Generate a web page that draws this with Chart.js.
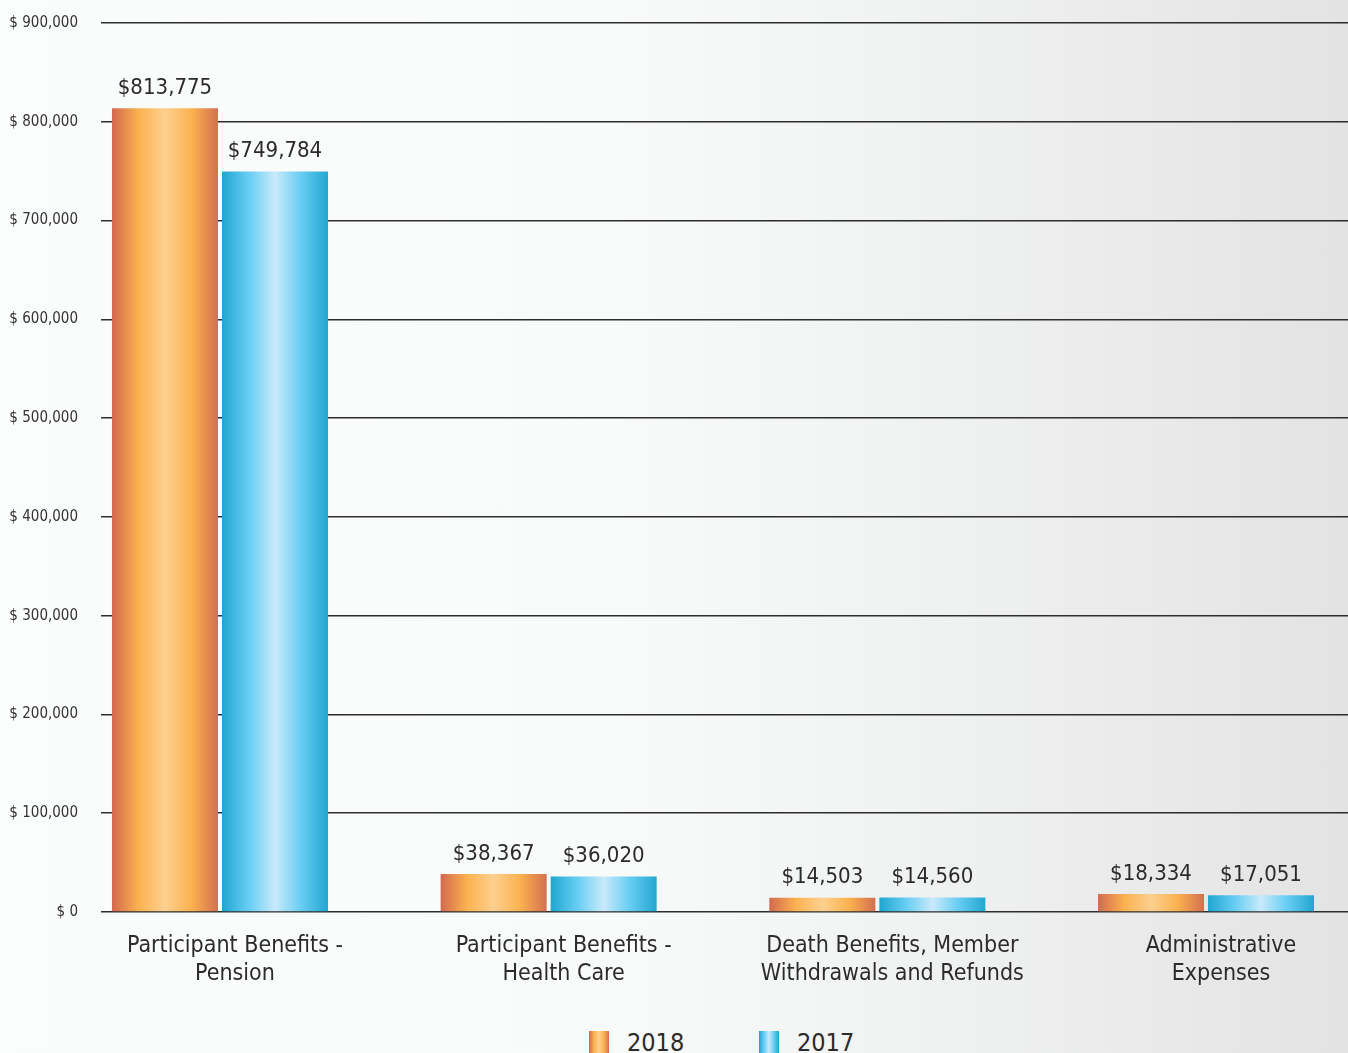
<!DOCTYPE html>
<html lang="en">
<head>
<meta charset="UTF-8">
<meta name="viewport" content="width=device-width, initial-scale=1.0">
<title>Deductions by Category, 2018 and 2017</title>
<script src="https://cdn.jsdelivr.net/npm/chart.js"></script>
<style>
    html, body { margin: 0; padding: 0; overflow: hidden; }
    body {
        position: relative;
        width: 1348px;
        height: 1053px;
        background: linear-gradient(to right, #fbfcfc 0%, #f9fafa 45%, #eff0f0 72%, #e3e3e3 100%);
        font-family: "Liberation Sans Narrow", "DejaVu Sans Condensed", "Roboto", sans-serif;
        color: #2b2b2b;
    }
    #wrap { position: absolute; left: 0; top: 0; width: 1348px; height: 1015px; }
    #legend { position: absolute; left: 589px; top: 1026px; display: flex; align-items: flex-start; }
    .item { display: flex; align-items: flex-start; width: 170px; }
    .swatch { width: 20px; height: 26px; margin-top: 5px; margin-right: 18px; }
    .label { font-size: 25px; line-height: 34px; }
    .s2018 { background: linear-gradient(to right, #d3694f 0%, #fbb24f 25%, #fdd08f 50%, #fbb24f 75%, #d3704f 100%); }
    .s2017 { background: linear-gradient(to right, #1fa6d0 0%, #66cdf3 25%, #c9eafa 50%, #66cdf3 75%, #22a6d0 100%); }
</style>
</head>
<body>
<div id="wrap"><canvas id="chart"></canvas></div>
<div id="legend">
    <div class="item"><div class="swatch s2018"></div><div class="label">2018</div></div>
    <div class="item"><div class="swatch s2017"></div><div class="label">2017</div></div>
</div>

<script>
    // categories (two-line labels) and the two years of values
    const categories = [
        ['Participant Benefits -', 'Pension'],
        ['Participant Benefits -', 'Health Care'],
        ['Death Benefits, Member', 'Withdrawals and Refunds'],
        ['Administrative', 'Expenses']
    ];
    const years = ['2018', '2017'];
    const values2018 = [813775, 38367, 14503, 18334];
    const values2017 = [749784, 36020, 14560, 17051];
    const yTicks = [0, 100000, 200000, 300000, 400000, 500000, 600000, 700000, 800000, 900000];

    const fontFamily = '"Liberation Sans Narrow", "DejaVu Sans Condensed", "Roboto", sans-serif';
    Chart.defaults.font.family = fontFamily;
    Chart.defaults.color = '#2b2b2b';

    const catPct = 0.6694;
    const barPct = 0.9636;

    // cylinder-like shading across each bar
    const orangeStops = ['#d3694f', '#fbb24f', '#fdd08f', '#fbb24f', '#d3704f'];
    const blueStops = ['#1fa6d0', '#66cdf3', '#c9eafa', '#66cdf3', '#22a6d0'];

    function barGradient(stops) {
        return function (ctx) {
            const chart = ctx.chart;
            const xs = chart.scales.x;
            if (!xs || !chart.chartArea || ctx.type !== 'data') return stops[1];
            const step = xs.getPixelForValue(1) - xs.getPixelForValue(0);
            const chunk = step * catPct / 2;
            const center = xs.getPixelForValue(ctx.dataIndex) + (ctx.datasetIndex - 0.5) * chunk;
            const half = chunk * barPct / 2;
            const g = chart.ctx.createLinearGradient(center - half, 0, center + half, 0);
            g.addColorStop(0, stops[0]);
            g.addColorStop(0.25, stops[1]);
            g.addColorStop(0.5, stops[2]);
            g.addColorStop(0.75, stops[3]);
            g.addColorStop(1, stops[4]);
            return g;
        };
    }

    const money = v => '$' + v.toLocaleString('en-US');

    // amount printed above every bar
    const valueLabels = {
        id: 'valueLabels',
        afterDatasetsDraw(chart) {
            const { ctx } = chart;
            ctx.save();
            ctx.font = '22px ' + fontFamily;
            ctx.fillStyle = '#2b2b2b';
            ctx.textAlign = 'center';
            ctx.textBaseline = 'bottom';
            chart.data.datasets.forEach((ds, di) => {
                chart.getDatasetMeta(di).data.forEach((bar, i) => {
                    ctx.fillText(money(ds.data[i].y), bar.x, bar.y - 9);
                });
            });
            ctx.restore();
        }
    };

    const toPoints = arr => arr.map((v, i) => ({ x: i, y: v }));

    new Chart(document.getElementById('chart'), {
        type: 'bar',
        data: {
            datasets: [
                { label: years[0], data: toPoints(values2018), backgroundColor: barGradient(orangeStops) },
                { label: years[1], data: toPoints(values2017), backgroundColor: barGradient(blueStops) }
            ]
        },
        options: {
            responsive: true,
            maintainAspectRatio: false,
            animation: false,
            categoryPercentage: catPct,
            barPercentage: barPct,
            layout: { padding: { top: 23, left: 0, right: 0, bottom: 0 } },
            plugins: {
                legend: { display: false },
                tooltip: { enabled: false }
            },
            scales: {
                x: {
                    type: 'linear',
                    offset: false,
                    min: -0.362,
                    max: 3.432,
                    afterBuildTicks: axis => { axis.ticks = categories.map((c, i) => ({ value: i })); },
                    afterFit: axis => { axis.height = 103; },
                    grid: { display: false },
                    border: { display: false },
                    ticks: {
                        autoSkip: false,
                        maxRotation: 0,
                        padding: 12,
                        labelOffset: 15,
                        font: { size: 23, lineHeight: 1.22 },
                        color: '#2b2b2b',
                        callback: v => categories[v]
                    }
                },
                y: {
                    min: 0,
                    max: 900000,
                    afterBuildTicks: axis => { axis.ticks = yTicks.map(v => ({ value: v })); },
                    // keep the label gap from pushing the plot area down
                    afterFit: axis => { axis.width = 101; axis.paddingTop = 0; axis.paddingBottom = 0; },
                    grid: { color: '#2e2e2e', lineWidth: 1.5, drawTicks: false },
                    border: { display: false },
                    ticks: {
                        padding: 23,
                        font: { size: 15 },
                        color: '#333',
                        callback: v => '$ ' + v.toLocaleString('en-US')
                    }
                }
            }
        },
        plugins: [valueLabels]
    });
</script>
</body>
</html>
